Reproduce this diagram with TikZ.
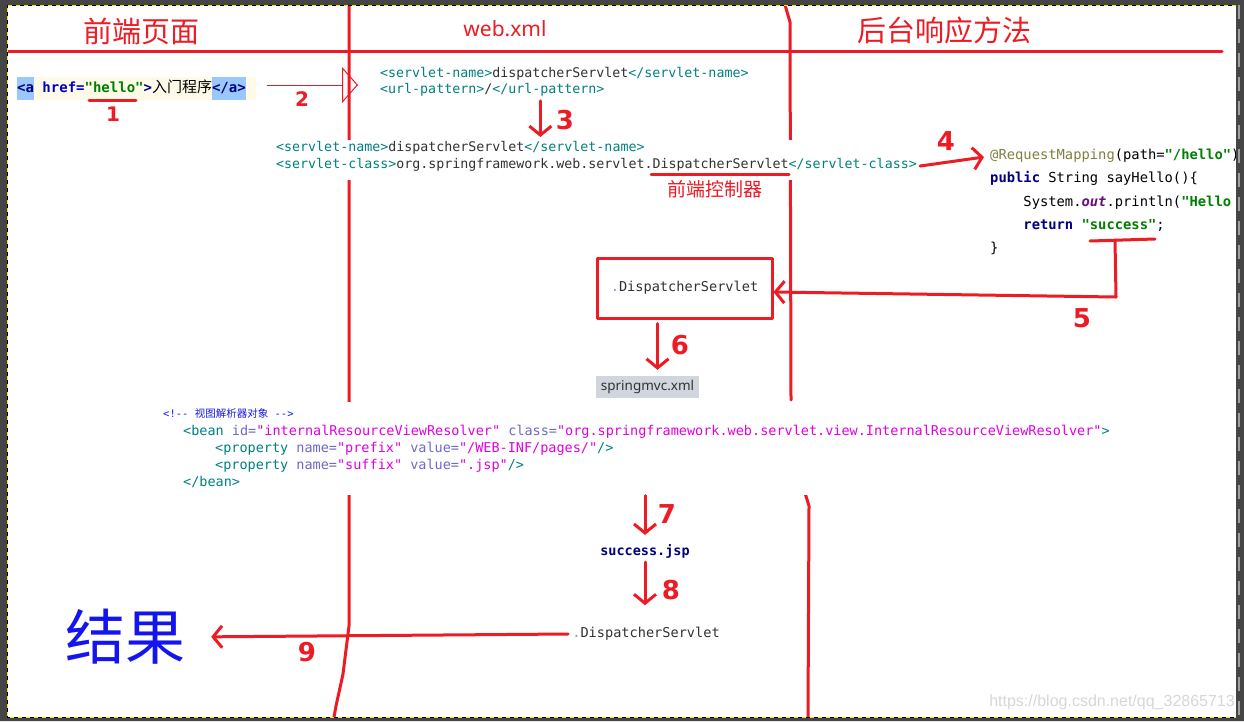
\documentclass[tikz,border=0pt]{standalone}
\usepackage{fontspec}
\setmonofont{DejaVu Sans Mono}
\newfontfamily\cjk{Noto Sans CJK SC}
\newfontfamily\uisans{Noto Sans}
\newfontfamily\handfont{DejaVu Sans}
\newfontfamily\wmfont{Liberation Sans}
\usetikzlibrary{arrows.meta,calc}

\definecolor{penred}{RGB}{237,28,36}
\definecolor{framegray}{RGB}{69,69,69}
\definecolor{dashyel}{RGB}{240,230,40}
\definecolor{xteal}{RGB}{0,128,128}
\definecolor{xdark}{RGB}{50,50,50}
\definecolor{jkw}{RGB}{0,0,128}
\definecolor{jgreen}{RGB}{0,128,0}
\definecolor{janno}{RGB}{128,128,64}
\definecolor{jfield}{RGB}{102,14,122}
\definecolor{hblue}{RGB}{0,0,200}
\definecolor{linkbg}{RGB}{253,251,232}
\definecolor{hlblue}{RGB}{155,200,250}
\definecolor{xattr}{RGB}{112,104,200}
\definecolor{xval}{RGB}{225,0,225}
\definecolor{cblue}{RGB}{25,25,230}
\definecolor{resblue}{RGB}{20,20,240}
\definecolor{smvcbg}{RGB}{208,213,222}
\definecolor{wmgray}{RGB}{215,215,215}
\definecolor{dotblue}{RGB}{110,160,220}

\newcommand{\hlbox}[1]{{\setlength{\fboxsep}{0pt}\colorbox{hlblue}{\rule[-7.2pt]{0pt}{23pt}#1}}}
\newcommand{\xtag}[1]{{\color{xteal}#1}}
\newcommand{\xatt}[1]{{\color{xattr}#1}}
\newcommand{\xvalue}[1]{{\color{xval}#1}}

\begin{document}
\begin{tikzpicture}[x=1pt,y=-1pt,
	pen/.style={draw=penred, line width=3pt, line cap=round, line join=round},
	arr/.style={pen, -{Straight Barb[length=9pt,width=22pt]}},
	thinarr/.style={draw=penred, line width=1pt, -{Triangle[open,length=16pt,width=36pt]}},
	num/.style={text=penred, inner sep=0pt, font=\handfont\bfseries\fontsize{26}{26}\selectfont},
	numsm/.style={num, font=\handfont\bfseries\fontsize{20}{20}\selectfont},
	head/.style={text=penred, inner sep=0pt, font=\cjk\fontsize{29}{29}\selectfont},
	code/.style={inner sep=0pt, align=left, text=xdark, font=\ttfamily\fontsize{13.3}{16.5}\selectfont}]
	\useasboundingbox (0,0) rectangle (1244,721);
	\fill[white] (0,0) rectangle (1244,721);

	% column lines
	\draw[pen] (7,51) -- (1222,51);
	\draw[pen] (349,5) -- (349,626) -- (343,674) -- (336,706) -- (334,717);
	\draw[pen] (785,5) -- (790,22) -- (791,400);
	\draw[pen] (805,493) -- (809,506) -- (808,717);

	% headings
	\node[head] (front) at (141,31) {前端页面};
	\node[text=penred, inner sep=0pt, font=\uisans\fontsize{21}{21}\selectfont] (webxml) at (505,29) {web.xml};
	\node[head] (back) at (944,30) {后台响应方法};

	% request
	\node[anchor=west, fill=linkbg, inner sep=0pt, text=jkw, font=\ttfamily\bfseries\fontsize{14}{14}\selectfont] (link) at (17,88)
		{\hlbox{<a} {\color{hblue}href=}{\color{jgreen}"hello"}>{\cjk\mdseries\color{black}\fontsize{15}{15}\selectfont 入门程序}\hlbox{</a>}\hspace*{10pt}};
	\draw[pen] (89,100) -- (136,100);

	% web.xml
	\node[code, anchor=north west] (webmap) at (380,67)
		{\xtag{<servlet-name>}dispatcherServlet\xtag{</servlet-name>}\\
		 \xtag{<url-pattern>}/\xtag{</url-pattern>}};
	\node[code, anchor=north west, fill=white, inner xsep=2pt, inner ysep=1.5pt] (servlet) at (274,140)
		{\xtag{<servlet-name>}dispatcherServlet\xtag{</servlet-name>}\\
		 \xtag{<servlet-class>}org.springframework.web.servlet.DispatcherServlet\xtag{</servlet-class>}\rule[-10pt]{0pt}{10pt}};
	\draw[pen] (651,174) -- (789,174);
	\node[text=penred, inner sep=0pt, font=\cjk\fontsize{19}{19}\selectfont] (ctrl) at (715,189) {前端控制器};

	% controller
	\node[code, anchor=north west, text=black, font=\ttfamily\fontsize{13.8}{23.3}\selectfont] (ctl) at (990,149)
		{{\color{janno}@RequestMapping}(path={\color{jgreen}\bfseries"/hello"})\\
		 {\color{jkw}\bfseries public} String sayHello()\{\\
		 \phantom{xxxx}System.{\color{jfield}\itshape\bfseries out}.println({\color{jgreen}\bfseries"Hello S}\\
		 \phantom{xxxx}{\color{jkw}\bfseries return} {\color{jgreen}\bfseries"success"};\\
		 \}};
	\draw[pen] (1090,241) -- (1155,239);
	\coordinate (retmark) at (1115,240);

	\node[pen, minimum width=175pt, minimum height=60pt, inner sep=0pt, text=xdark, font=\ttfamily\fontsize{13.6}{13.6}\selectfont] (dsbox) at (684.5,288)
		{{\color{dotblue}.}DispatcherServlet};
	\node[fill=smvcbg, minimum width=103pt, minimum height=22pt, inner sep=0pt, text=xdark, font=\uisans\fontsize{13.5}{13.5}\selectfont] (smvc) at (647.5,387)
		{springmvc.xml};

	% view resolver
	\node[code, anchor=north west, fill=white, inner xsep=5pt, inner ysep=0pt, font=\ttfamily\fontsize{13.5}{17.3}\selectfont] (bean) at (158,402)
		{{\fontsize{10.5}{17.3}\selectfont\color{cblue}\rule{0pt}{15.5pt}<!-- {\cjk 视图解析器对象} -->}\\
		 \hspace*{20pt}\xtag{<bean} \xatt{id=}\xvalue{"internalResourceViewResolver"} \xatt{class=}\xvalue{"org.springframework.web.servlet.view.InternalResourceViewResolver"}\xtag{>}\\
		 \hspace*{52pt}\xtag{<property} \xatt{name=}\xvalue{"prefix"} \xatt{value=}\xvalue{"/WEB-INF/pages/"}\xtag{/>}\\
		 \hspace*{52pt}\xtag{<property} \xatt{name=}\xvalue{"suffix"} \xatt{value=}\xvalue{".jsp"}\xtag{/>}\\
		 \hspace*{20pt}\xtag{</bean>}\rule[-8.5pt]{0pt}{8.5pt}};

	\node[inner sep=4pt, text=jkw, font=\ttfamily\bfseries\fontsize{13.5}{13.5}\selectfont] (succ) at (645,551) {success.jsp};
	\node[inner sep=4pt, text=xdark, font=\ttfamily\fontsize{13.6}{13.6}\selectfont] (ds2) at (646,634) {{\color{dotblue}.}DispatcherServlet};
	\node[inner sep=4pt, text=resblue, font=\cjk\fontsize{60}{60}\selectfont] (result) at (125,637) {结果};

	% steps
	\draw[thinarr] ([shift={(11pt,3pt)}]link.east) -- ($(link.east -| webmap.west)+(-22pt,3pt)$);
	\draw[arr, shorten <=4pt, shorten >=3pt] ([xshift=-24pt]webmap.south) -- ([xshift=-24pt]webmap.south |- servlet.north);
	\draw[arr] ([shift={(1pt,-6pt)}]servlet.east) -- ([shift={(-6pt,-8pt)}]ctl.north west);
	\draw[arr] (retmark) -- ++(1,57) -- ([yshift=-4pt]dsbox.east);
	\draw[arr, shorten <=4pt, shorten >=6pt] ([xshift=-27pt]dsbox.south) -- ([xshift=-27pt]dsbox.south |- smvc.north);
	\draw[arr, shorten >=5pt] (succ.north |- bean.south) -- (succ.north);
	\draw[arr, shorten >=18pt] (succ.south) -- (succ.south |- ds2.north);
	\draw[arr, shorten >=22pt] (ds2.west) -- (result.east);

	\node[numsm] (n1) at (113,114) {1};
	\node[numsm] (n2) at (302,99) {2};
	\node[num] (n3) at (565,120) {3};
	\node[num] (n4) at (946,141) {4};
	\node[num] (n5) at (1082,318) {5};
	\node[num] (n6) at (680,345) {6};
	\node[num] (n7) at (667,514) {7};
	\node[num] (n8) at (671,590) {8};
	\node[num] (n9) at (307,652) {9};

	\node[anchor=east, inner sep=0pt, text=wmgray, font=\wmfont\fontsize{16}{16}\selectfont] (wm) at (1235,702) {https://blog.csdn.net/qq\_32865713};

	% screenshot frame
	\fill[framegray, even odd rule] (0,0) rectangle (1244,721) (7,5) rectangle (1236,717);
	\draw[black, line width=1pt] (1236,5) -- (7,5) -- (7,717) -- (1236,717);
	\draw[dashyel, line width=1pt, dash pattern=on 4pt off 4pt] (1236,5) -- (7,5) -- (7,717) -- (1236,717);
	\draw[gray!75, line width=2pt, dash pattern=on 14pt off 10pt] (1239,5) -- (1239,717);
\end{tikzpicture}
\end{document}
